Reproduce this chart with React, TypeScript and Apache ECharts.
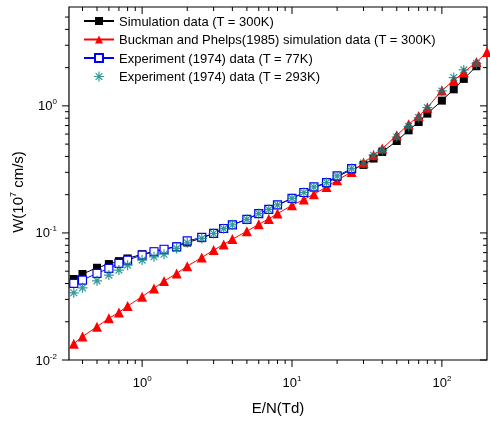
import React, { useEffect, useRef } from 'react';
import * as echarts from 'echarts';

// ---- data ----
const simulationX = [0.35, 0.4, 0.5, 0.6, 0.7, 0.8, 1.0, 1.2, 1.4, 1.7, 2, 2.5, 3, 3.5, 4, 5, 6, 7, 8, 10, 12, 14, 17, 20, 25, 30, 35, 40, 50, 60, 70, 80, 100, 120, 140, 170];
const simulationY = [0.0434, 0.0475, 0.0532, 0.0569, 0.0600, 0.0630, 0.0680, 0.0715, 0.0745, 0.0785, 0.0840, 0.0910, 0.0990, 0.1080, 0.1160, 0.1280, 0.1420, 0.1530, 0.1660, 0.1870, 0.2070, 0.2280, 0.2460, 0.2760, 0.3160, 0.3430, 0.3850, 0.4340, 0.5290, 0.6420, 0.7460, 0.8690, 1.10, 1.35, 1.63, 2.05];

const buckmanX = [0.35, 0.4, 0.5, 0.6, 0.7, 0.8, 1.0, 1.2, 1.4, 1.7, 2, 2.5, 3, 3.5, 4, 5, 6, 7, 8, 10, 12, 14, 17, 20, 25, 30, 35, 40, 50, 60, 70, 80, 100, 120, 140, 170, 200];
const buckmanY = [0.0134, 0.0153, 0.0183, 0.0213, 0.0237, 0.0266, 0.0315, 0.0366, 0.0418, 0.0480, 0.0548, 0.0640, 0.0733, 0.0812, 0.0894, 0.103, 0.117, 0.129, 0.142, 0.165, 0.183, 0.202, 0.230, 0.260, 0.302, 0.356, 0.409, 0.461, 0.587, 0.716, 0.831, 0.968, 1.32, 1.59, 1.84, 2.21, 2.65];

const exp77X = [0.35, 0.4, 0.5, 0.6, 0.7, 0.8, 1.0, 1.2, 1.4, 1.7, 2, 2.5, 3, 3.5, 4, 5, 6, 7, 8, 10, 12, 14, 17, 20, 25];
const exp77Y = [0.0401, 0.0426, 0.0481, 0.0526, 0.0576, 0.0611, 0.0670, 0.0711, 0.0744, 0.0778, 0.0865, 0.0922, 0.0991, 0.1084, 0.1158, 0.128, 0.142, 0.153, 0.166, 0.187, 0.208, 0.230, 0.249, 0.281, 0.321];

const exp293X = [0.35, 0.4, 0.5, 0.6, 0.7, 0.8, 1.0, 1.2, 1.4, 1.7, 2, 2.5, 3, 3.5, 4, 5, 6, 7, 8, 10, 12, 14, 17, 20, 25, 30, 35, 40, 50, 60, 70, 80, 100, 120, 140, 170];
const exp293Y = [0.0338, 0.0370, 0.0420, 0.0466, 0.0510, 0.0558, 0.0611, 0.0649, 0.0680, 0.0755, 0.0836, 0.0905, 0.0990, 0.108, 0.116, 0.128, 0.142, 0.153, 0.166, 0.187, 0.208, 0.230, 0.249, 0.281, 0.321, 0.355, 0.409, 0.447, 0.569, 0.690, 0.808, 0.968, 1.31, 1.67, 1.92, 2.15];

const seriesNames = [
  'Simulation data (T = 300K)',
  'Buckman and Phelps(1985) simulation data (T = 300K)',
  'Experiment (1974) data (T = 77K)',
  'Experiment (1974) data (T = 293K)',
];

const X_MIN = 0.325;
const X_MAX = 200;
const Y_MIN = 0.01;
const Y_MAX = 6;

const FONT = '"Liberation Sans", Arial, sans-serif';
const ASTERISK = 'path://M5,0L5,10M0,5L10,5M1.6,1.6L8.4,8.4M8.4,1.6L1.6,8.4';

const zip = (xs: number[], ys: number[]) => xs.map((x, i) => [x, ys[i]]);

function buildTicks() {
  const ticks: number[][] = [];
  const eps = 1e-6;
  for (let e = -1; e <= 2; e++) {
    for (let k = 1; k <= 9; k++) {
      const v = k * Math.pow(10, e);
      if (v > X_MIN * (1 + eps) && v < X_MAX * (1 - eps)) {
        const len = k === 1 ? 7 : 4;
        ticks.push([v, Y_MIN, 0, len]);
        ticks.push([v, Y_MAX, 1, len]);
      }
    }
  }
  for (let e = -2; e <= 0; e++) {
    for (let k = 1; k <= 9; k++) {
      const v = k * Math.pow(10, e);
      if (v >= Y_MIN * (1 - eps) && v < Y_MAX * (1 - eps)) {
        const len = k === 1 ? 7 : 4;
        ticks.push([X_MIN, v, 2, len]);
        ticks.push([X_MAX, v, 3, len]);
      }
    }
  }
  return ticks;
}

const powFormatter = (v: number) => {
  const e = Math.log10(v);
  const r = Math.round(e);
  if (Math.abs(e - r) > 1e-6) return '';
  return `{b|10}{s|${r}}`;
};

const labelRich = {
  b: { fontSize: 13, fontFamily: FONT, color: '#000', lineHeight: 16 },
  s: { fontSize: 8, fontFamily: FONT, color: '#000', verticalAlign: 'top', lineHeight: 10 },
};

export default function App() {
  const ref = useRef<HTMLDivElement>(null);
  useEffect(() => {
    if (!ref.current) return;
    const chart = echarts.init(ref.current, undefined, { renderer: 'svg' });
    const option: any = {
      animation: false,
      grid: {
        left: 64, right: 1.5, top: 7, bottom: 61,
        show: true, borderColor: '#000', borderWidth: 1.2, backgroundColor: 'transparent',
      },
      xAxis: {
        type: 'log', logBase: 10, min: X_MIN, max: X_MAX,
        axisLine: { show: false }, axisTick: { show: false }, splitLine: { show: false },
        axisLabel: { formatter: powFormatter, rich: labelRich, margin: 14 },
        name: 'E/N(Td)', nameLocation: 'middle', nameGap: 40,
        nameTextStyle: { fontSize: 15, fontFamily: FONT, color: '#000' },
      },
      yAxis: {
        type: 'log', logBase: 10, min: Y_MIN, max: Y_MAX,
        axisLine: { show: false }, axisTick: { show: false }, splitLine: { show: false },
        axisLabel: { formatter: powFormatter, rich: labelRich, margin: 12 },
        name: '{a|W(10}{s|7}{a| cm/s)}', nameLocation: 'middle', nameGap: 38,
        nameTextStyle: {
          padding: [0, 17, 0, 0],
          rich: {
            a: { fontSize: 15, fontFamily: FONT, color: '#000', lineHeight: 18 },
            s: { fontSize: 9, fontFamily: FONT, color: '#000', verticalAlign: 'top', lineHeight: 10 },
          },
        },
      },
      legend: {
        orient: 'vertical', left: 78, top: 9.5,
        itemWidth: 30, itemHeight: 10, itemGap: 5.5,
        textStyle: { fontSize: 13, fontFamily: FONT, color: '#000' },
        data: [
          { name: seriesNames[0] },
          { name: seriesNames[1] },
          { name: seriesNames[2] },
          { name: seriesNames[3], itemStyle: { color: 'rgba(0,0,0,0)', borderColor: '#008080', borderWidth: 1.2 } },
        ],
      },
      series: [
        {
          name: seriesNames[0], type: 'line', data: zip(simulationX, simulationY), z: 2,
          symbol: 'rect', symbolSize: 8,
          lineStyle: { color: '#000', width: 1 },
          itemStyle: { color: '#000' },
        },
        {
          name: seriesNames[1], type: 'line', data: zip(buckmanX, buckmanY), z: 3,
          symbol: 'triangle', symbolSize: 10,
          lineStyle: { color: '#ff0000', width: 1 },
          itemStyle: { color: '#ff0000' },
        },
        {
          name: seriesNames[2], type: 'line', data: zip(exp77X, exp77Y), z: 4,
          symbol: 'rect', symbolSize: 8,
          lineStyle: { color: '#0000ff', width: 1 },
          itemStyle: { color: '#ffffff', borderColor: '#0000ff', borderWidth: 1.2 },
        },
        {
          name: seriesNames[3], type: 'scatter', data: zip(exp293X, exp293Y), z: 5,
          symbol: ASTERISK, symbolSize: 10,
          itemStyle: { color: 'rgba(0,0,0,0)', borderColor: '#008080', borderWidth: 1.2 },
        },
        {
          type: 'custom', silent: true, z: 10, clip: false,
          dimensions: ['x', 'y', 'side', 'len'],
          encode: { x: 0, y: 1 },
          data: buildTicks(),
          renderItem: (_params: any, api: any) => {
            const side = api.value(2);
            const len = api.value(3);
            const p = api.coord([api.value(0), api.value(1)]);
            let x2 = p[0];
            let y2 = p[1];
            if (side === 0 || side === 1) y2 = p[1] + len;
            else x2 = p[0] - len;
            return {
              type: 'line',
              shape: { x1: p[0], y1: p[1], x2, y2 },
              style: { stroke: '#000', lineWidth: 1 },
            };
          },
        },
      ],
    };
    chart.setOption(option);
    return () => chart.dispose();
  }, []);
  return <div ref={ref} style={{ position: 'fixed', left: 0, top: 0, width: 490, height: 421 }} />;
}
